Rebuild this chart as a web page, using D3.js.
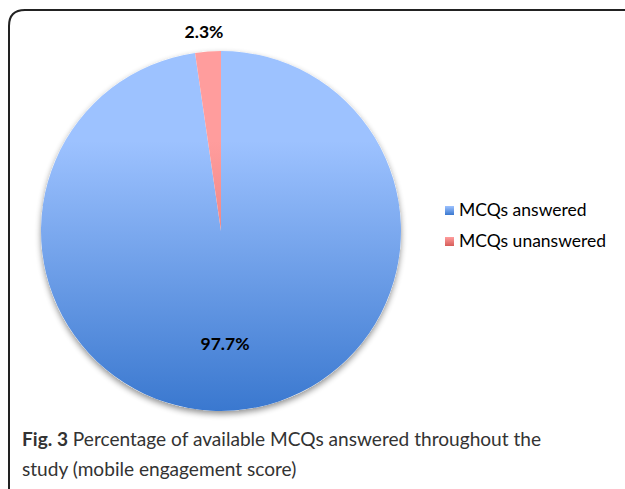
<!DOCTYPE html>
<html>
<head>
<meta charset="utf-8">
<script src="https://cdn.jsdelivr.net/npm/d3@7"></script>
<style>
  body { margin: 0; background: #fff; }
  svg { display: block; }
</style>
</head>
<body>
<div id="chart"></div>
<script>
// data
const categories = ["MCQs answered", "MCQs unanswered"];
const values = [97.7, 2.3];
const labels = ["97.7%", "2.3%"];

const width = 625, height = 489;
const cx = 221, cy = 231, radius = 180;

const svg = d3.select("#chart").append("svg")
    .attr("width", width)
    .attr("height", height);

const defs = svg.append("defs");

// slice gradients (light at the top, darker at the bottom)
const grads = [
    { id: "gBlue", top: "#9dc2ff", bottom: "#3a78cf" },
    { id: "gRed", top: "#ff9d9d", bottom: "#d65d59" }
];
grads.forEach(g => {
    const lg = defs.append("linearGradient")
        .attr("id", g.id)
        .attr("gradientUnits", "userSpaceOnUse")
        .attr("x1", 0).attr("y1", -radius)
        .attr("x2", 0).attr("y2", radius);
    lg.append("stop").attr("offset", "0%").attr("stop-color", g.top);
    lg.append("stop").attr("offset", "25%").attr("stop-color", g.top);
    lg.append("stop").attr("offset", "100%").attr("stop-color", g.bottom);
});

const legGrads = [
    { id: "lBlue", top: "#9dc2ff", bottom: "#3a78cf" },
    { id: "lRed", top: "#ff9d9d", bottom: "#d65d59" }
];
legGrads.forEach(g => {
    const lg = defs.append("linearGradient")
        .attr("id", g.id)
        .attr("x1", 0).attr("y1", 0).attr("x2", 0).attr("y2", 1);
    lg.append("stop").attr("offset", "0%").attr("stop-color", g.top);
    lg.append("stop").attr("offset", "100%").attr("stop-color", g.bottom);
});

const shadow = defs.append("filter")
    .attr("id", "shadow")
    .attr("x", "-20%").attr("y", "-20%")
    .attr("width", "140%").attr("height", "140%");
shadow.append("feGaussianBlur").attr("in", "SourceAlpha").attr("stdDeviation", 3);
shadow.append("feOffset").attr("dx", 0).attr("dy", 3).attr("result", "blur");
shadow.append("feComponentTransfer").append("feFuncA").attr("type", "linear").attr("slope", 0.45);
const merge = shadow.append("feMerge");
merge.append("feMergeNode");
merge.append("feMergeNode").attr("in", "SourceGraphic");

// frame with rounded top-left corner
svg.append("path")
    .attr("d", `M9,${height + 5} L9,26 Q9,10 25,10 L${width + 5},10`)
    .attr("fill", "none")
    .attr("stroke", "#222")
    .attr("stroke-width", 2);

const color = d3.scaleOrdinal()
    .domain(categories)
    .range(["url(#gBlue)", "url(#gRed)"]);

const pie = d3.pie().sort(null).value(d => d.value);
const arc = d3.arc().innerRadius(0).outerRadius(radius);

const data = categories.map((c, i) => ({ name: c, value: values[i], label: labels[i] }));
const arcs = pie(data);

const g = svg.append("g")
    .attr("transform", `translate(${cx}, ${cy})`);

g.append("circle")
    .attr("r", radius)
    .attr("fill", "#fff")
    .attr("filter", "url(#shadow)");

g.selectAll("path.slice")
    .data(arcs)
    .join("path")
    .attr("class", "slice")
    .attr("d", arc)
    .attr("fill", d => color(d.data.name));

// percentage labels
const labelPos = [[4, 119], [-17, -193]];
g.selectAll("text.pct")
    .data(arcs)
    .join("text")
    .attr("class", "pct")
    .attr("x", (d, i) => labelPos[i][0])
    .attr("y", (d, i) => labelPos[i][1])
    .attr("text-anchor", "middle")
    .style("font-family", "Lato, 'Open Sans', sans-serif")
    .style("font-weight", "bold")
    .style("font-size", "17.5px")
    .style("fill", "#000")
    .text(d => d.data.label);

// legend
const legend = svg.append("g")
    .attr("transform", "translate(445, 206)");

const legendItem = legend.selectAll("g")
    .data(categories)
    .join("g")
    .attr("transform", (d, i) => `translate(0, ${i * 31})`);

legendItem.append("rect")
    .attr("width", 9)
    .attr("height", 9)
    .attr("fill", (d, i) => `url(#${legGrads[i].id})`);

legendItem.append("text")
    .attr("x", 14)
    .attr("y", 10)
    .style("font-family", "Lato, 'Open Sans', sans-serif")
    .style("font-size", "17.5px")
    .style("fill", "#000")
    .text(d => d);

// caption
const caption = svg.append("text")
    .attr("x", 22)
    .attr("y", 446)
    .style("font-family", "Lato, sans-serif")
    .style("font-size", "19.1px")
    .style("fill", "#333");
caption.append("tspan").style("font-weight", "bold").text("Fig. 3");
caption.append("tspan").text(" Percentage of available MCQs answered throughout the");

svg.append("text")
    .attr("x", 22)
    .attr("y", 476)
    .style("font-family", "Lato, sans-serif")
    .style("font-size", "19.1px")
    .style("fill", "#333")
    .text("study (mobile engagement score)");
</script>
</body>
</html>
